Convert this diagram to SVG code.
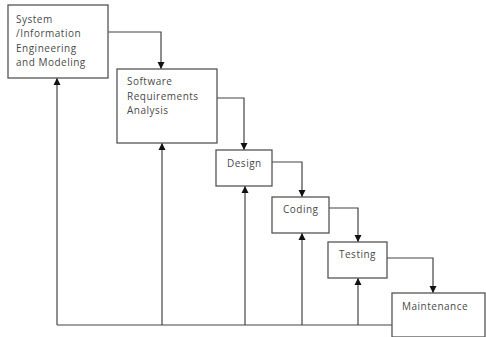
<svg xmlns="http://www.w3.org/2000/svg" width="486" height="337" viewBox="0 0 486 337">
<style>
.box{fill:#fff;stroke:#555;stroke-width:1.3}
.ln{fill:none;stroke:#444;stroke-width:1.2}
.t{font-family:"Open Sans","Liberation Sans",sans-serif;font-size:10px;fill:#4a4a4a;letter-spacing:0.5px}
</style>
<defs>
<marker id="ah" markerWidth="8" markerHeight="8" refX="7" refY="4" orient="auto" markerUnits="userSpaceOnUse">
<path d="M0,0.5 L7,4 L0,7.5 Z" fill="#111"/>
</marker>
</defs>
<rect width="486" height="337" fill="#fff"/>
<g id="connectors">
<path class="ln" d="M108,32 H161 V69" marker-end="url(#ah)"/>
<path class="ln" d="M217,98 H244 V150" marker-end="url(#ah)"/>
<path class="ln" d="M272,162 H302 V197" marker-end="url(#ah)"/>
<path class="ln" d="M329,208 H358 V242" marker-end="url(#ah)"/>
<path class="ln" d="M387,258 H433 V293" marker-end="url(#ah)"/>
<path class="ln" d="M57,325 H392"/>
<path class="ln" d="M57,325 V78" marker-end="url(#ah)"/>
<path class="ln" d="M162,325 V143" marker-end="url(#ah)"/>
<path class="ln" d="M245,325 V186" marker-end="url(#ah)"/>
<path class="ln" d="M302,325 V233" marker-end="url(#ah)"/>
<path class="ln" d="M358,325 V278" marker-end="url(#ah)"/>
</g>
<g id="system">
<rect class="box" x="8" y="5" width="100" height="73"/>
<text class="t" x="16" y="22.5">System</text>
<text class="t" x="16" y="37">/Information</text>
<text class="t" x="16" y="51.5">Engineering</text>
<text class="t" x="16" y="66">and Modeling</text>
</g>
<g id="requirements">
<rect class="box" x="117" y="69" width="100" height="74"/>
<text class="t" x="127" y="85">Software</text>
<text class="t" x="127" y="100">Requirements</text>
<text class="t" x="127" y="114">Analysis</text>
</g>
<g id="design">
<rect class="box" x="216" y="150" width="56" height="36"/>
<text class="t" x="227" y="167">Design</text>
</g>
<g id="coding">
<rect class="box" x="272" y="197" width="57" height="36"/>
<text class="t" x="283" y="213">Coding</text>
</g>
<g id="testing">
<rect class="box" x="328" y="242" width="59" height="36"/>
<text class="t" x="339" y="258">Testing</text>
</g>
<g id="maintenance">
<rect class="box" x="392" y="293" width="93" height="44"/>
<text class="t" x="402" y="310">Maintenance</text>
</g>
</svg>
